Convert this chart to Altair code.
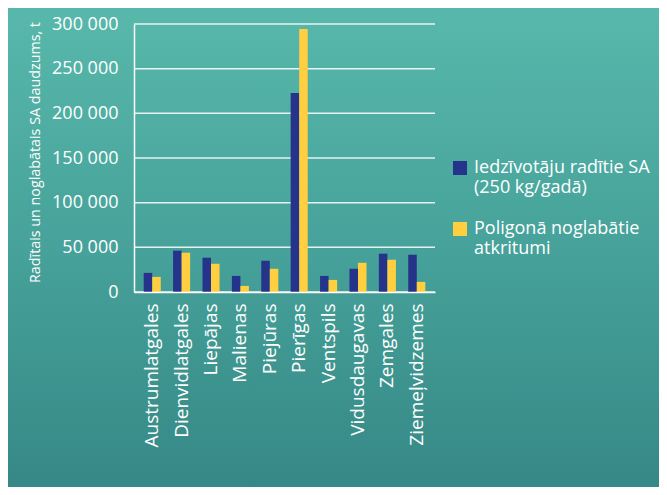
import altair as alt
import pandas as pd

regions = ["Austrumlatgales", "Dienvidlatgales", "Liepājas", "Malienas", "Piejūras",
           "Pierīgas", "Ventspils", "Vidusdaugavas", "Zemgales", "Ziemeļvidzemes"]
generated = [21400, 46300, 38400, 18000, 35000, 222800, 18000, 26000, 42900, 41700]
landfilled = [16900, 44000, 31600, 6800, 26000, 294400, 13500, 32700, 36100, 11300]
series = ["Iedzīvotāju radītie SA|(250 kg/gadā)", "Poligonā noglabātie|atkritumi"]
colors = ["#25338a", "#ffcf40"]
y_ticks = [0, 50000, 100000, 150000, 200000, 250000, 300000]

rows = []
for r, g, l in zip(regions, generated, landfilled):
    rows.append({"region": r, "series": series[0], "value": g})
    rows.append({"region": r, "series": series[1], "value": l})
df = pd.DataFrame(rows)
grid_df = pd.DataFrame({"value": y_ticks})

FONT = "Open Sans"

bg = alt.Chart(pd.DataFrame({"a": [0]})).mark_rect(
    color=alt.LinearGradient(
        gradient="linear",
        stops=[alt.GradientStop(color="#58b8ab", offset=0),
               alt.GradientStop(color="#46a29a", offset=0.5),
               alt.GradientStop(color="#368886", offset=1)],
        x1=0, x2=0, y1=0, y2=1)
).encode(x=alt.value(-126), x2=alt.value(525), y=alt.value(-16), y2=alt.value(463))

grid = alt.Chart(grid_df).mark_rule(color="white", strokeWidth=1.5, opacity=0.85).encode(
    y=alt.Y("value:Q")
)

bars = alt.Chart(df).mark_bar().encode(
    x=alt.X("region:N", sort=regions,
            scale=alt.Scale(paddingInner=0.42, paddingOuter=0.33),
            axis=alt.Axis(title=None, labelAngle=-90, labelFontSize=19, labelColor="white",
                          labelFont=FONT, labelPadding=11, ticks=False, zindex=1,
                          domainColor="white", domainWidth=1.5, labelBaseline="middle")),
    xOffset=alt.XOffset("series:N", sort=series),
    y=alt.Y("value:Q", scale=alt.Scale(domain=[0, 300000]),
            axis=alt.Axis(values=y_ticks, title="Radītais un noglabātais SA daudzums, t",
                          labelExpr="replace(format(datum.value, ','), regexp(',', 'g'), ' ')",
                          labelFontSize=18, labelColor="white", labelFont=FONT, labelPadding=16,
                          ticks=False, grid=False, zindex=1,
                          domainColor="white", domainWidth=1.5,
                          titleFontSize=14.3, titleColor="white", titleFont=FONT,
                          titleFontWeight="normal", titleX=-99, titleY=128,
                          titleAlign="center", titleBaseline="middle", titleAngle=270)),
    color=alt.Color("series:N", sort=series,
                    scale=alt.Scale(domain=series, range=colors),
                    legend=alt.Legend(title=None, orient="none", legendX=317, legendY=135,
                                      symbolType="square", symbolSize=196, symbolStrokeWidth=0,
                                      symbolOpacity=1,
                                      labelExpr="split(datum.label, '|')",
                                      labelFontSize=18, labelColor="white", labelFont=FONT,
                                      labelLimit=300, rowPadding=23, labelOffset=5)),
)

chart = alt.layer(bg, grid, bars).properties(
    width=301, height=268,
    autosize=alt.AutoSizeParams(type="none"),
    padding={"left": 126, "top": 16, "right": 224, "bottom": 195},
).configure_view(stroke=None).configure(background="#378a86")

chart.save("out.html", embed_options={"renderer": "svg", "actions": False})
